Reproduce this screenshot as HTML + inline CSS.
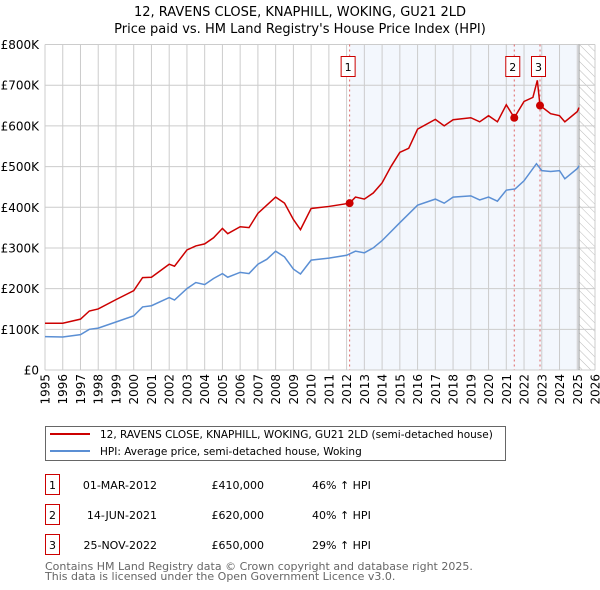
<!DOCTYPE html>
<html><head><meta charset="utf-8"><style>
body{margin:0;background:#fff;}
svg{display:block;font-family:"DejaVu Sans","Liberation Sans",sans-serif;}
</style></head><body>
<svg id="chart" width="600" height="590" viewBox="0 0 600 590" xmlns="http://www.w3.org/2000/svg">
<text x="300" y="16" text-anchor="middle" font-size="13">12, RAVENS CLOSE, KNAPHILL, WOKING, GU21 2LD</text>
<text x="300" y="33" text-anchor="middle" font-size="13">Price paid vs. HM Land Registry's House Price Index (HPI)</text>
<g id="plot"></g>
<g>
<rect x="45.5" y="426.5" width="460" height="34" fill="#fff" stroke="#666"/>
<line x1="50" y1="434" x2="90" y2="434" stroke="#cc0000" stroke-width="2"/>
<text x="100" y="438" font-size="10.5">12, RAVENS CLOSE, KNAPHILL, WOKING, GU21 2LD (semi-detached house)</text>
<line x1="50" y1="451" x2="90" y2="451" stroke="#5b8fd4" stroke-width="2"/>
<text x="100" y="455" font-size="10.5">HPI: Average price, semi-detached house, Woking</text>
</g>
<g id="table" font-size="11"></g>
<text x="45" y="570" font-size="11" fill="#666">Contains HM Land Registry data © Crown copyright and database right 2025.</text>
<text x="45" y="580" font-size="11" fill="#666">This data is licensed under the Open Government Licence v3.0.</text>
</svg>
<script>
const hpiYears=[1995,1996,1997,1997.5,1998,1999,2000,2000.5,2001,2002,2002.3,2003,2003.5,2004,2004.5,2005,2005.3,2006,2006.5,2007,2007.5,2008,2008.5,2009,2009.4,2010,2011,2012,2012.5,2013,2013.5,2014,2015,2016,2017,2017.5,2018,2019,2019.5,2020,2020.5,2021,2021.5,2022,2022.7,2023,2023.5,2024,2024.3,2025,2025.1];
const hpiValues=[82,81,87,100,103,118,133,155,158,178,172,200,215,210,225,237,228,240,237,260,272,292,278,248,236,270,275,282,292,288,300,318,362,405,420,410,425,428,418,425,415,442,445,465,507,490,488,490,470,495,502];
const priceYears=[1995,1996,1997,1997.5,1998,1999,2000,2000.5,2001,2002,2002.3,2003,2003.5,2004,2004.5,2005,2005.3,2006,2006.5,2007,2007.5,2008,2008.5,2009,2009.4,2010,2011,2012.17,2012.5,2013,2013.5,2014,2014.5,2015,2015.5,2016,2017,2017.5,2018,2019,2019.5,2020,2020.5,2021,2021.45,2022,2022.5,2022.75,2022.9,2023.5,2024,2024.3,2025,2025.1];
const priceValues=[115,115,125,145,150,173,195,227,228,260,255,295,305,310,325,348,335,352,350,385,405,425,410,370,345,397,402,410,425,420,435,460,500,535,545,592,616,600,615,620,610,625,610,652,620,660,670,712,650,630,625,610,635,645];
const saleYears=[2012.17,2021.45,2022.9];
const saleValues=[410,620,650];
const saleLabels=["1","2","3"];
const saleDates=["01-MAR-2012","14-JUN-2021","25-NOV-2022"];
const salePrices=["£410,000","£620,000","£650,000"];
const saleHpi=["46% ↑ HPI","40% ↑ HPI","29% ↑ HPI"];
const yTicks=[0,100,200,300,400,500,600,700,800];
const yTickLabels=["£0","£100K","£200K","£300K","£400K","£500K","£600K","£700K","£800K"];
const xTicks=[1995,1996,1997,1998,1999,2000,2001,2002,2003,2004,2005,2006,2007,2008,2009,2010,2011,2012,2013,2014,2015,2016,2017,2018,2019,2020,2021,2022,2023,2024,2025,2026];

const NS="http://www.w3.org/2000/svg";
const X0=45,X1=595,Y0=370,Y1=44.5;
const xs=y=>X0+(y-1995)*(X1-X0)/31;
const ys=v=>Y0-v*(Y0-Y1)/800;
const plot=document.getElementById('plot');
function mk(tag,attrs,parent){const e=document.createElementNS(NS,tag);for(const k in attrs)e.setAttribute(k,attrs[k]);(parent||plot).appendChild(e);return e;}

const shade=mk('rect',{x:xs(2012.17),y:Y1,width:xs(2025.1)-xs(2012.17),height:Y0-Y1,fill:'#eef3fc',opacity:'0.7'});


const defs=mk('defs',{});
const pat=mk('pattern',{id:'hatch',width:'6',height:'6',patternUnits:'userSpaceOnUse',patternTransform:'rotate(-45)'},defs);
mk('line',{x1:0,y1:0,x2:0,y2:6,stroke:'#bbb','stroke-width':1},pat);
const hatch=mk('rect',{x:xs(2025.1),y:Y1,width:X1-xs(2025.1),height:Y0-Y1,fill:'url(#hatch)'});



xTicks.forEach((t,i)=>{
  const g=mk('line',{x1:xs(t),x2:xs(t),y1:Y1,y2:Y0,stroke:'#ccc','stroke-width':1});
  
  
  const tx=mk('text',{x:0,y:0,'font-size':12,'text-anchor':'end',transform:`translate(${xs(t)+4.5},${Y0+4}) rotate(-90)`});
  tx.textContent=String(t);
  
  
});
yTicks.forEach((t,i)=>{
  const g=mk('line',{x1:X0,x2:X1,y1:ys(t),y2:ys(t),stroke:'#ccc','stroke-width':1});
  
  
  const tx=mk('text',{x:X0-6,y:ys(t)+4.5,'font-size':12,'text-anchor':'end'});
  tx.textContent=yTickLabels[i];
  
  
});
const edge=mk('line',{x1:xs(2025.1),x2:xs(2025.1),y1:Y1,y2:Y0,stroke:'#999','stroke-width':1});



saleYears.forEach((y,i)=>{
  const l=mk('line',{x1:xs(y),x2:xs(y),y1:Y1,y2:Y0,stroke:'#e06666','stroke-width':1,'stroke-dasharray':'2,3'});
  
  
});

const hp=mk('polyline',{points:hpiYears.map((y,i)=>xs(y)+','+ys(hpiValues[i])).join(' '),fill:'none',stroke:'#5b8fd4','stroke-width':1.5});


const pp=mk('polyline',{points:priceYears.map((y,i)=>xs(y)+','+ys(priceValues[i])).join(' '),fill:'none',stroke:'#cc0000','stroke-width':1.5});



saleYears.forEach((y,i)=>{
  const c=mk('circle',{cx:xs(y),cy:ys(saleValues[i]),r:4,fill:'#cc0000'});
  
  
  const b=mk('rect',{x:xs(y)-8.5,y:56.5,width:14,height:20,fill:'#fff',stroke:'#cc0000'});
  
  
  const t=mk('text',{x:xs(y)-1.5,y:71,'font-size':11,'text-anchor':'middle'});
  t.textContent=saleLabels[i];
  
  
});

const tbl=document.getElementById('table');
const rowY=[485,515,545];
saleLabels.forEach((s,i)=>{
  const y=rowY[i];
  const b=mk('rect',{x:45.5,y:y-10.5,width:14,height:20,fill:'#fff',stroke:'#cc0000'},tbl);
  
  
  const t=mk('text',{x:52.5,y:y+4,'text-anchor':'middle'},tbl);t.textContent=s;
  
  
  const d=mk('text',{x:157,y:y+4,'text-anchor':'end'},tbl);d.textContent=saleDates[i];
  
  
  const p=mk('text',{x:264,y:y+4,'text-anchor':'end'},tbl);p.textContent=salePrices[i];
  
  
  const h=mk('text',{x:312,y:y+4},tbl);h.textContent=saleHpi[i];
  
  
});
</script>
</body></html>
